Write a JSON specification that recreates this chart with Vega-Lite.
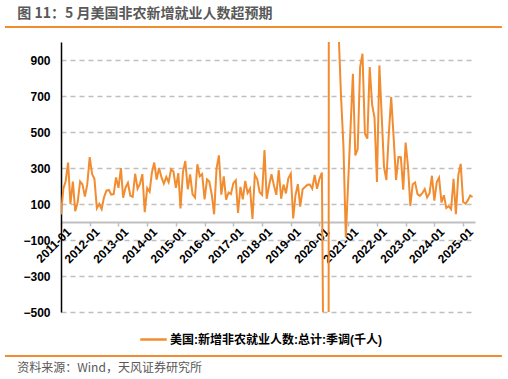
{
  "$schema": "https://vega.github.io/schema/vega-lite/v6.json",
  "autosize": "none",
  "padding": {"left": 61, "top": 42, "right": 33, "bottom": 67},
  "background": "white",
  "config": {"view": {"stroke": null}, "font": "Liberation Sans, Noto Sans CJK SC"},
  "width": 414,
  "height": 270,
  "layer": [
    {
      "data": {"values": [{"edge": "2009-01-18", "part": "top"}, {"edge": "2026-05-09", "part": "top"}]},
      "mark": {"type": "line", "color": "#F28C30", "strokeWidth": 2, "clip": false},
      "encoding": {
        "x": {"field": "edge", "type": "temporal", "scale": {"domain": ["2011-01", "2025-06"]}},
        "y": {"datum": 1083, "type": "quantitative", "scale": {"domain": [-500, 1000], "nice": false, "zero": false}}
      }
    },
    {
      "data": {"values": [{"part": "top"}]},
      "mark": {"type": "rule", "color": "#F28C30", "strokeWidth": 2, "clip": false},
      "encoding": {
        "y": {"datum": 1083, "type": "quantitative"}
      }
    },
    {
      "data": {"values": [
        {"date": "2011-01", "value": 42}, {"date": "2011-02", "value": 188}, {"date": "2011-03", "value": 225}, {"date": "2011-04", "value": 330}, {"date": "2011-05", "value": 100}, {"date": "2011-06", "value": 225}, {"date": "2011-07", "value": 60}, {"date": "2011-08", "value": 110}, {"date": "2011-09", "value": 225}, {"date": "2011-10", "value": 209}, {"date": "2011-11", "value": 141}, {"date": "2011-12", "value": 209},
        {"date": "2012-01", "value": 360}, {"date": "2012-02", "value": 265}, {"date": "2012-03", "value": 240}, {"date": "2012-04", "value": 77}, {"date": "2012-05", "value": 100}, {"date": "2012-06", "value": 72}, {"date": "2012-07", "value": 137}, {"date": "2012-08", "value": 174}, {"date": "2012-09", "value": 178}, {"date": "2012-10", "value": 152}, {"date": "2012-11", "value": 155}, {"date": "2012-12", "value": 248},
        {"date": "2013-01", "value": 190}, {"date": "2013-02", "value": 300}, {"date": "2013-03", "value": 135}, {"date": "2013-04", "value": 192}, {"date": "2013-05", "value": 218}, {"date": "2013-06", "value": 146}, {"date": "2013-07", "value": 140}, {"date": "2013-08", "value": 268}, {"date": "2013-09", "value": 185}, {"date": "2013-10", "value": 212}, {"date": "2013-11", "value": 266}, {"date": "2013-12", "value": 55},
        {"date": "2014-01", "value": 188}, {"date": "2014-02", "value": 168}, {"date": "2014-03", "value": 272}, {"date": "2014-04", "value": 330}, {"date": "2014-05", "value": 236}, {"date": "2014-06", "value": 300}, {"date": "2014-07", "value": 249}, {"date": "2014-08", "value": 213}, {"date": "2014-09", "value": 250}, {"date": "2014-10", "value": 221}, {"date": "2014-11", "value": 293}, {"date": "2014-12", "value": 280},
        {"date": "2015-01", "value": 190}, {"date": "2015-02", "value": 272}, {"date": "2015-03", "value": 75}, {"date": "2015-04", "value": 277}, {"date": "2015-05", "value": 339}, {"date": "2015-06", "value": 182}, {"date": "2015-07", "value": 265}, {"date": "2015-08", "value": 154}, {"date": "2015-09", "value": 136}, {"date": "2015-10", "value": 321}, {"date": "2015-11", "value": 254}, {"date": "2015-12", "value": 266},
        {"date": "2016-01", "value": 126}, {"date": "2016-02", "value": 237}, {"date": "2016-03", "value": 225}, {"date": "2016-04", "value": 153}, {"date": "2016-05", "value": 43}, {"date": "2016-06", "value": 297}, {"date": "2016-07", "value": 370}, {"date": "2016-08", "value": 152}, {"date": "2016-09", "value": 254}, {"date": "2016-10", "value": 124}, {"date": "2016-11", "value": 164}, {"date": "2016-12", "value": 155},
        {"date": "2017-01", "value": 216}, {"date": "2017-02", "value": 232}, {"date": "2017-03", "value": 50}, {"date": "2017-04", "value": 195}, {"date": "2017-05", "value": 126}, {"date": "2017-06", "value": 228}, {"date": "2017-07", "value": 161}, {"date": "2017-08", "value": 185}, {"date": "2017-09", "value": 17}, {"date": "2017-10", "value": 263}, {"date": "2017-11", "value": 237}, {"date": "2017-12", "value": 165},
        {"date": "2018-01", "value": 151}, {"date": "2018-02", "value": 400}, {"date": "2018-03", "value": 129}, {"date": "2018-04", "value": 204}, {"date": "2018-05", "value": 265}, {"date": "2018-06", "value": 203}, {"date": "2018-07", "value": 151}, {"date": "2018-08", "value": 288}, {"date": "2018-09", "value": 129}, {"date": "2018-10", "value": 208}, {"date": "2018-11", "value": 159}, {"date": "2018-12", "value": 243},
        {"date": "2019-01", "value": 269}, {"date": "2019-02", "value": 20}, {"date": "2019-03", "value": 147}, {"date": "2019-04", "value": 210}, {"date": "2019-05", "value": 85}, {"date": "2019-06", "value": 182}, {"date": "2019-07", "value": 194}, {"date": "2019-08", "value": 207}, {"date": "2019-09", "value": 208}, {"date": "2019-10", "value": 185}, {"date": "2019-11", "value": 261}, {"date": "2019-12", "value": 184},
        {"date": "2020-01", "value": 240}, {"date": "2020-02", "value": 275}, {"date": "2020-03", "value": -1373}, {"date": "2020-04", "value": -20477}, {"date": "2020-05", "value": 2833}, {"date": "2020-06", "value": 4846}, {"date": "2020-07", "value": 1726}, {"date": "2020-08", "value": 1583}, {"date": "2020-09", "value": 1050}, {"date": "2020-10", "value": 700}, {"date": "2020-11", "value": 420}, {"date": "2020-12", "value": -85},
        {"date": "2021-01", "value": 230}, {"date": "2021-02", "value": 540}, {"date": "2021-03", "value": 824}, {"date": "2021-04", "value": 370}, {"date": "2021-05", "value": 405}, {"date": "2021-06", "value": 861}, {"date": "2021-07", "value": 935}, {"date": "2021-08", "value": 490}, {"date": "2021-09", "value": 463}, {"date": "2021-10", "value": 861}, {"date": "2021-11", "value": 650}, {"date": "2021-12", "value": 580},
        {"date": "2022-01", "value": 222}, {"date": "2022-02", "value": 870}, {"date": "2022-03", "value": 602}, {"date": "2022-04", "value": 305}, {"date": "2022-05", "value": 233}, {"date": "2022-06", "value": 490}, {"date": "2022-07", "value": 694}, {"date": "2022-08", "value": 472}, {"date": "2022-09", "value": 233}, {"date": "2022-10", "value": 361}, {"date": "2022-11", "value": 360}, {"date": "2022-12", "value": 180},
        {"date": "2023-01", "value": 441}, {"date": "2023-02", "value": 303}, {"date": "2023-03", "value": 90}, {"date": "2023-04", "value": 210}, {"date": "2023-05", "value": 220}, {"date": "2023-06", "value": 155}, {"date": "2023-07", "value": 145}, {"date": "2023-08", "value": 160}, {"date": "2023-09", "value": 183}, {"date": "2023-10", "value": 136}, {"date": "2023-11", "value": 160}, {"date": "2023-12", "value": 257},
        {"date": "2024-01", "value": 119}, {"date": "2024-02", "value": 222}, {"date": "2024-03", "value": 246}, {"date": "2024-04", "value": 108}, {"date": "2024-05", "value": 149}, {"date": "2024-06", "value": 78}, {"date": "2024-07", "value": 88}, {"date": "2024-08", "value": 71}, {"date": "2024-09", "value": 240}, {"date": "2024-10", "value": 44}, {"date": "2024-11", "value": 261}, {"date": "2024-12", "value": 323},
        {"date": "2025-01", "value": 111}, {"date": "2025-02", "value": 102}, {"date": "2025-03", "value": 120}, {"date": "2025-04", "value": 147}, {"date": "2025-05", "value": 139}
      ]},
      "mark": {"type": "line", "strokeWidth": 2, "clip": true},
      "encoding": {
        "x": {
          "field": "date", "type": "temporal",
          "scale": {"domain": ["2011-01", "2025-06"]},
          "axis": {"title": null, "format": "%Y-%m", "tickCount": {"interval": "year", "step": 1}, "labelAngle": -45, "labelFontSize": 12, "labelFontWeight": "bold", "labelColor": "#000000", "labelOverlap": false, "labelFlush": false, "labelBound": false, "labelOffset": 4, "labelPadding": 0, "domainColor": "#BFBFBF", "domainWidth": 2, "tickColor": "#BFBFBF", "tickSize": 4, "tickWidth": 1.5, "grid": false, "offset": -90}
        },
        "y": {
          "field": "value", "type": "quantitative",
          "scale": {"domain": [-500, 1000], "nice": false, "zero": false},
          "axis": {"title": null, "values": [-500, -300, -100, 100, 300, 500, 700, 900], "tickCount": 20, "labelOverlap": false, "labelFontSize": 12, "labelFontWeight": "bold", "labelColor": "#000000", "domainColor": "#000000", "domainWidth": 1.5, "ticks": false, "labelPadding": 11, "grid": true, "gridColor": "#BFBFBF", "gridDash": [5, 4], "gridWidth": 1.5}
        },
        "color": {
          "datum": "美国:新增非农就业人数:总计:季调(千人)",
          "type": "nominal",
          "scale": {"range": ["#F28C30"]},
          "legend": {"title": null, "orient": "none", "legendX": 78, "legendY": 283, "direction": "horizontal", "symbolType": "stroke", "symbolStrokeWidth": 2.5, "symbolSize": 700, "labelFontSize": 12, "labelFontWeight": "bold", "labelColor": "#000000", "labelLimit": 400, "labelOffset": 2}
        }
      }
    },
    {
      "data": {"values": [{"edge": "2009-01-18", "part": "bottom"}, {"edge": "2026-05-09", "part": "bottom"}]},
      "mark": {"type": "line", "color": "#F28C30", "strokeWidth": 2, "clip": false},
      "encoding": {
        "x": {"field": "edge", "type": "temporal", "scale": {"domain": ["2011-01", "2025-06"]}},
        "y": {"datum": -744, "type": "quantitative", "scale": {"domain": [-500, 1000], "nice": false, "zero": false}}
      }
    },
    {
      "data": {"values": [{"label": "图 11：5 月美国非农新增就业人数超预期"}]},
      "mark": {"type": "text", "align": "left", "baseline": "middle", "fontSize": 14, "font": "Noto Sans CJK SC", "fontWeight": "bold", "color": "#595959"},
      "encoding": {
        "text": {"field": "label"},
        "x": {"datum": {"year": 2009, "month": 6, "date": 24}, "type": "temporal"},
        "y": {"datum": 1153, "type": "quantitative"}
      }
    },
    {
      "data": {"values": [{"label": "资料来源：Wind，天风证券研究所"}]},
      "mark": {"type": "text", "align": "left", "baseline": "middle", "fontSize": 12, "font": "Noto Sans CJK SC", "color": "#595959"},
      "encoding": {
        "text": {"field": "label"},
        "x": {"datum": {"year": 2009, "month": 6, "date": 24}, "type": "temporal"},
        "y": {"datum": -811, "type": "quantitative"}
      }
    }
  ]
}
